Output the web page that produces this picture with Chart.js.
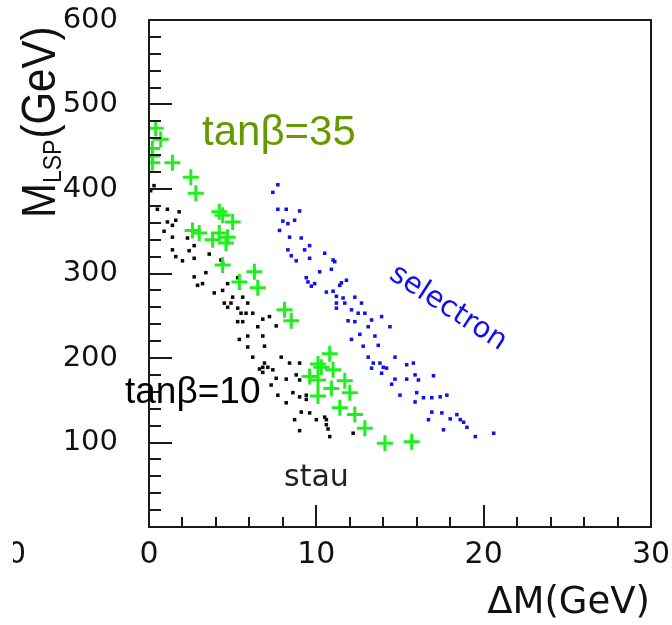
<!DOCTYPE html>
<html>
<head>
<meta charset="utf-8">
<script src="https://cdn.jsdelivr.net/npm/chart.js@4/dist/chart.umd.min.js"></script>
<style>
  html, body { margin: 0; padding: 0; background: #fff; }
  #wrap { width: 672px; height: 625px; }
</style>
</head>
<body>
<div id="wrap"><canvas id="c" width="672" height="625"></canvas></div>
<script>
// Axis tick labels
const xTickValues = [0, 10, 20, 30];
const yTickValues = [100, 200, 300, 400, 500, 600];

// tan(beta)=10, stau region: [deltaM (GeV), M_LSP (GeV)]
const stauPoints = [
  [0.3,404],[0.1,398],[0.5,376],[1.1,376],[1.8,373],[1.1,361],[1.4,357],[1.6,363],[0.9,350],[1.4,343],
  [2.3,342],[1.4,328],[2.4,327],[2.7,333],[1.6,320],[2.0,315],[2.7,318],[3.6,323],[4.3,316],[4.4,312],
  [2.7,296],[3.4,301],[2.9,286],[3.2,288],[3.9,277],[4.4,280],[4.7,288],[5.3,295],[4.5,265],[4.9,265],
  [4.7,260],[5.0,272],[5.6,272],[5.3,259],[5.9,265],[5.5,253],[5.8,253],[6.2,253],[5.3,243],[5.6,243],
  [6.8,246],[7.2,249],[6.5,237],[7.6,238],[6.8,226],[5.4,222],[5.9,226],[5.9,213],[6.9,214],[6.2,201],
  [6.8,189],[6.6,187],[7.1,189],[7.4,186],[6.9,194],[6.8,183],[7.9,201],[8.4,194],[9.0,194],[7.6,176],
  [8.2,175],[8.8,180],[9.0,174],[7.3,168],[7.7,156],[8.6,159],[9.0,154],[9.4,156],[9.4,151],[8.2,147],
  [9.1,136],[9.6,135],[8.7,127],[10.0,127],[10.5,130],[10.6,127],[10.6,121],[10.7,116],[9.0,114],[10.8,107],
  [12.2,111]
];

// tan(beta)=10, selectron region
const selectronPoints = [
  [7.7,405],[7.4,396],[7.7,376],[8.2,376],[9.0,374],[8.0,362],[8.3,359],[8.7,363],[7.8,351],[8.4,343],
  [9.1,342],[8.3,328],[9.3,328],[9.6,333],[8.5,321],[8.8,315],[9.6,318],[10.5,324],[11.0,316],[11.1,314],
  [10.9,305],[10.2,302],[9.4,295],[9.5,290],[9.9,288],[9.7,285],[11.8,292],[11.5,289],[11.4,286],[10.6,278],
  [11.0,279],[11.2,273],[11.6,271],[12.3,272],[11.2,265],[11.7,265],[12.7,265],[11.2,259],[12.1,257],[12.5,253],
  [12.9,253],[11.9,244],[12.3,243],[13.3,245],[13.9,249],[13.1,237],[14.4,237],[12.6,228],[12.1,222],[13.5,226],
  [12.8,214],[13.7,215],[13.1,201],[14.7,201],[13.4,194],[13.8,194],[14.0,189],[14.2,188],[13.3,188],[13.9,182],
  [15.4,192],[15.8,194],[14.5,169],[14.7,175],[15.4,175],[15.9,180],[16.1,174],[17.0,179],[15.0,156],[16.0,159],
  [15.9,148],[16.4,153],[16.9,153],[17.4,154],[17.8,156],[16.9,136],[17.5,135],[16.7,127],[18.0,128],[18.4,133],
  [18.6,127],[18.8,124],[17.6,115],[19.0,118],[19.5,107],[20.6,111]
];

// tan(beta)=35 points
const tanb35Points = [
  [0.4,472],[0.7,459],[0.2,448],[0.2,439],[0.2,431],[1.4,431],[2.5,414],[2.8,395],[4.2,373],[4.4,369],
  [5.0,361],[2.6,351],[3.0,348],[4.2,348],[3.8,340],[4.7,343],[4.6,336],[4.4,310],[5.4,290],[6.3,302],
  [6.5,283],[8.1,257],[8.5,244],[10.8,205],[10.1,193],[10.3,189],[11.0,186],[9.6,178],[10.1,174],[11.7,173],
  [10.9,164],[12.0,159],[10.1,155],[11.4,141],[12.3,133],[12.9,117],[14.1,99],[15.7,101]
];

const toXY = pts => pts.map(p => ({ x: p[0], y: p[1] }));

const AXIS_COLOR = '#1a1a1a';
const ROOT_FONT = '"DejaVu Sans", sans-serif';
const LABEL_FONT = '"Liberation Sans", Arial, sans-serif';

// Frame, inward ticks, axis titles and annotations
const decorations = {
  id: 'decorations',
  afterDraw(chart) {
    const ctx = chart.ctx;
    const a = chart.chartArea;
    const xs = chart.scales.x, ys = chart.scales.y;
    ctx.save();
    ctx.strokeStyle = AXIS_COLOR;
    ctx.lineWidth = 2;
    ctx.strokeRect(a.left, a.top, a.right - a.left, a.bottom - a.top);

    ctx.beginPath();
    for (let v = 0; v <= 600; v += 20) {
      const py = Math.round(ys.getPixelForValue(v));
      const len = v % 100 === 0 ? 23 : 12;
      ctx.moveTo(a.left, py); ctx.lineTo(a.left + len, py);
    }
    for (let v = 0; v <= 30; v += 2) {
      const px = Math.round(xs.getPixelForValue(v));
      const len = v % 10 === 0 ? 22 : 10;
      ctx.moveTo(px, a.bottom); ctx.lineTo(px, a.bottom - len);
    }
    ctx.stroke();

    // x-axis title
    ctx.fillStyle = '#111';
    ctx.font = '37px ' + ROOT_FONT;
    ctx.textAlign = 'right';
    ctx.textBaseline = 'alphabetic';
    ctx.fillText('\u0394M(GeV)', 650, 613);

    // y-axis title M_LSP(GeV)
    ctx.save();
    ctx.translate(55, 218);
    ctx.scale(1.15, 1);
    ctx.rotate(-Math.PI / 2);
    ctx.textAlign = 'left';
    ctx.font = '42px ' + LABEL_FONT;
    ctx.fillText('M', 0, 0);
    let w = ctx.measureText('M').width;
    ctx.font = '23px ' + LABEL_FONT;
    ctx.fillText('LSP', w, 5);
    w += ctx.measureText('LSP').width + 1;
    ctx.font = '42px ' + LABEL_FONT;
    ctx.fillText('(GeV)', w, 0);
    ctx.restore();

    // clipped label at the left edge
    ctx.save();
    ctx.beginPath(); ctx.rect(13, 520, 40, 60); ctx.clip();
    ctx.font = '30px ' + ROOT_FONT;
    ctx.textAlign = 'right';
    ctx.fillText('0', 26, 563);
    ctx.restore();

    // annotations
    ctx.textAlign = 'left';
    ctx.fillStyle = '#669900';
    ctx.font = '42px ' + LABEL_FONT;
    ctx.fillText('tan\u03b2=35', 202, 145);

    ctx.fillStyle = '#000';
    ctx.font = '37px ' + LABEL_FONT;
    ctx.fillText('tan\u03b2=10', 125, 403);

    ctx.fillStyle = '#222';
    ctx.font = '30px ' + ROOT_FONT;
    ctx.fillText('stau', 284, 486);

    ctx.save();
    ctx.fillStyle = '#1010ee';
    ctx.translate(388, 278);
    ctx.rotate(33 * Math.PI / 180);
    ctx.font = '29px ' + ROOT_FONT;
    ctx.fillText('selectron', 0, 0);
    ctx.restore();

    ctx.restore();
  }
};

new Chart(document.getElementById('c'), {
  type: 'scatter',
  data: {
    datasets: [
      {
        label: 'tan\u03b2=35',
        data: toXY(tanb35Points),
        pointStyle: 'cross',
        radius: 8,
        borderWidth: 3,
        borderColor: '#1ef01e',
        backgroundColor: '#1ef01e',
        order: 0,
        clip: 0
      },
      {
        label: 'stau',
        data: toXY(stauPoints),
        pointStyle: 'rect',
        radius: 2.5,
        borderWidth: 0,
        backgroundColor: '#0a0a0a',
        borderColor: '#0a0a0a',
        order: 1
      },
      {
        label: 'selectron',
        data: toXY(selectronPoints),
        pointStyle: 'rect',
        radius: 2.5,
        borderWidth: 0,
        backgroundColor: '#1010f2',
        borderColor: '#1010f2',
        order: 2
      }
    ]
  },
  options: {
    responsive: false,
    animation: false,
    devicePixelRatio: 1,
    layout: { padding: { top: 20, right: 21, left: 0, bottom: 0 } },
    plugins: { legend: { display: false }, tooltip: { enabled: false } },
    elements: { point: { hoverRadius: 0 } },
    scales: {
      x: {
        type: 'linear', min: 0, max: 30,
        grid: { display: false, drawTicks: false },
        border: { display: false },
        afterBuildTicks: s => { s.ticks = xTickValues.map(v => ({ value: v })); },
        afterFit: s => { s.height = 98; s.paddingLeft = 0; s.paddingRight = 0; },
        ticks: { padding: 10, color: '#111', font: { family: ROOT_FONT, size: 30 } }
      },
      y: {
        type: 'linear', min: 0, max: 600,
        grid: { display: false, drawTicks: false },
        border: { display: false },
        afterBuildTicks: s => { s.ticks = yTickValues.map(v => ({ value: v })); },
        afterFit: s => { s.width = 149; s.paddingTop = 0; s.paddingBottom = 0; },
        ticks: { padding: 31, color: '#111', font: { family: ROOT_FONT, size: 29 } }
      }
    }
  },
  plugins: [decorations]
});
</script>
</body>
</html>
